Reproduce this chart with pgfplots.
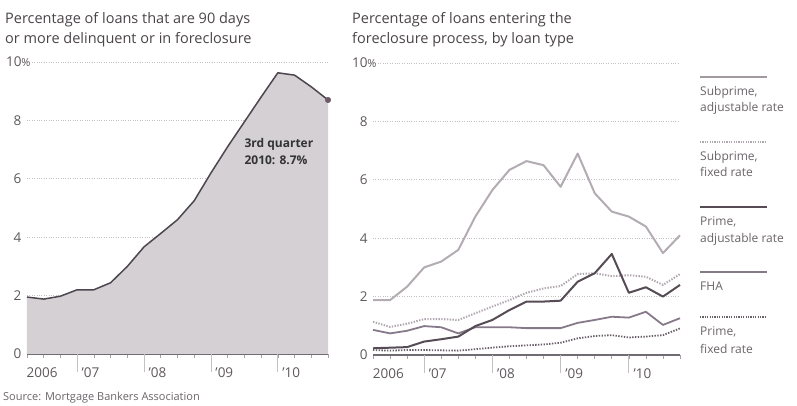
\documentclass[border=0pt]{standalone}
\usepackage{pgfplots}
\pgfplotsset{compat=1.18}
\usepackage{pgfplotstable}
\usepackage{fontspec}
\setmainfont{Open Sans}
\definecolor{titlec}{HTML}{4A4448}
\definecolor{tickc}{HTML}{5E585C}
\definecolor{legc}{HTML}{6A6468}
\definecolor{areac}{HTML}{D4D0D4}
\definecolor{linec}{HTML}{4D4650}
\definecolor{dotc}{HTML}{6E5A66}
\definecolor{gridc}{HTML}{C4C0C4}
\definecolor{sarm}{HTML}{B3ACB3}
\definecolor{sfrm}{HTML}{B0A8B0}
\definecolor{parm}{HTML}{564C55}
\definecolor{fha}{HTML}{85798A}
\definecolor{pfrm}{HTML}{6A606A}

\pgfplotstableread{
q delinq
0 1.95
1 1.88
2 1.98
3 2.20
4 2.20
5 2.44
6 3.00
7 3.67
8 4.13
9 4.60
10 5.25
11 6.20
12 7.10
13 7.95
14 8.80
15 9.63
16 9.55
17 9.15
18 8.70
}\leftdata

\pgfplotstableread{
q sarm sfrm parm fha pfrm
0 1.88 1.14 0.23 0.86 0.17
1 1.88 0.96 0.25 0.74 0.15
2 2.34 1.07 0.27 0.83 0.17
3 3.00 1.23 0.46 0.99 0.17
4 3.20 1.23 0.54 0.95 0.16
5 3.60 1.20 0.63 0.74 0.15
6 4.74 1.43 0.99 0.95 0.20
7 5.65 1.66 1.20 0.95 0.25
8 6.34 1.88 1.54 0.95 0.30
9 6.64 2.13 1.83 0.92 0.33
10 6.50 2.28 1.83 0.92 0.36
11 5.76 2.36 1.86 0.92 0.42
12 6.90 2.77 2.51 1.10 0.57
13 5.54 2.80 2.80 1.20 0.65
14 4.91 2.70 3.46 1.31 0.68
15 4.74 2.73 2.13 1.28 0.60
16 4.40 2.68 2.32 1.48 0.63
17 3.49 2.40 2.00 1.03 0.68
18 4.10 2.77 2.40 1.26 0.91
}\rightdata

\pgfplotsset{
 panel/.style={
  scale only axis, height=292pt,
  xmin=0, xmax=18, ymin=0, ymax=10,
  axis x line=bottom, axis y line=left,
  x axis line style={-, color=linec!80, line width=1.2pt},
  y axis line style={draw=none},
  ytick={0,2,4,6,8,10}, yticklabels={0,2,4,6,8,10\rlap{\fontsize{11}{11}\selectfont\%}},
  ytick style={draw=none},
  ymajorgrids, grid style={dotted, gridc, line width=0.8pt},
  xtick={0.9,3.8,7.8,11.8,15.8},
  xticklabels={2006,’07,’08,’09,’10},
  major tick length=0pt,
  minor xtick={0,...,18},
  minor tick length=4pt,
  tick align=outside,
  minor x tick style={linec!50, line width=0.6pt},
  extra x ticks={3,7,11,15}, extra x tick labels={},
  extra x tick style={major tick length=18pt, tick style={gridc,line width=0.7pt}},
  tick label style={font=\fontsize{13.5}{13.5}\selectfont, text=tickc},
  xticklabel style={yshift=-10pt},
  yticklabel style={xshift=-2pt},
  clip=false,
 }
}

\begin{document}
\begin{tikzpicture}
\useasboundingbox (0pt,0pt) rectangle (797pt,406pt);

% titles
\begin{scope}[every node/.style={anchor=base west, inner sep=0pt, text=titlec, font=\fontsize{14.5}{17}\selectfont}]
\node at (5pt,382.5pt) {Percentage of loans that are 90 days};
\node at (5pt,362.5pt) {or more delinquent or in foreclosure};
\node at (352pt,382.5pt) {Percentage of loans entering the};
\node at (352pt,362.5pt) {foreclosure process, by loan type};
\end{scope}

% left panel
\begin{axis}[panel, width=301pt, at={(27pt,52pt)}, anchor=south west]
\addplot[fill=areac, draw=none] table[x=q, y=delinq] {\leftdata} \closedcycle;
\addplot[draw=linec, line width=1.5pt, line join=round] table[x=q, y=delinq] {\leftdata};
\addplot[only marks, mark=*, mark size=2.8pt, color=dotc] coordinates {(18,8.7)};
\node[anchor=west, align=left, inner sep=0pt, text=black!80, font=\bfseries\fontsize{12}{17}\selectfont] at (axis cs:13.0,6.92) {3rd quarter\\2010: 8.7\%};
\end{axis}

% right panel
\begin{axis}[panel, width=307pt, at={(373pt,51pt)}, anchor=south west]
\addplot[draw=sarm, line width=2pt, line join=round] table[x=q, y=sarm] {\rightdata};
\addplot[draw=sfrm, line width=2pt, dash pattern=on 1.4pt off 1.4pt, line join=round] table[x=q, y=sfrm] {\rightdata};
\addplot[draw=pfrm, line width=1.8pt, dash pattern=on 1.4pt off 1.4pt, line join=round] table[x=q, y=pfrm] {\rightdata};
\addplot[draw=fha, line width=1.8pt, line join=round] table[x=q, y=fha] {\rightdata};
\addplot[draw=parm, line width=2pt, line join=round] table[x=q, y=parm] {\rightdata};
\end{axis}

% legend
\draw[sarm!90!black, line width=1.5pt] (700pt,329pt) -- (767pt,329pt);
\draw[sfrm, line width=1.5pt, dash pattern=on 1.2pt off 1.2pt] (700pt,264pt) -- (767pt,264pt);
\draw[parm, line width=2pt] (700pt,199pt) -- (767pt,199pt);
\draw[fha, line width=1.5pt] (700pt,134pt) -- (767pt,134pt);
\draw[pfrm, line width=1.5pt, dash pattern=on 1.2pt off 1.2pt] (700pt,89pt) -- (767pt,89pt);
\begin{scope}[every node/.style={anchor=base west, inner sep=0pt, text=legc, font=\fontsize{12}{14}\selectfont}]
\node at (700pt,310pt) {Subprime,};
\node at (700pt,294pt) {adjustable rate};
\node at (700pt,245pt) {Subprime,};
\node at (700pt,229pt) {fixed rate};
\node at (700pt,180pt) {Prime,};
\node at (700pt,163pt) {adjustable rate};
\node at (700pt,115pt) {FHA};
\node at (700pt,70pt) {Prime,};
\node at (700pt,52pt) {fixed rate};
\end{scope}

% source
\node[anchor=base west, inner sep=0pt, text=legc, font=\fontsize{11}{12}\selectfont] at (3pt,5pt) {Source: Mortgage Bankers Association};
\end{tikzpicture}
\end{document}
